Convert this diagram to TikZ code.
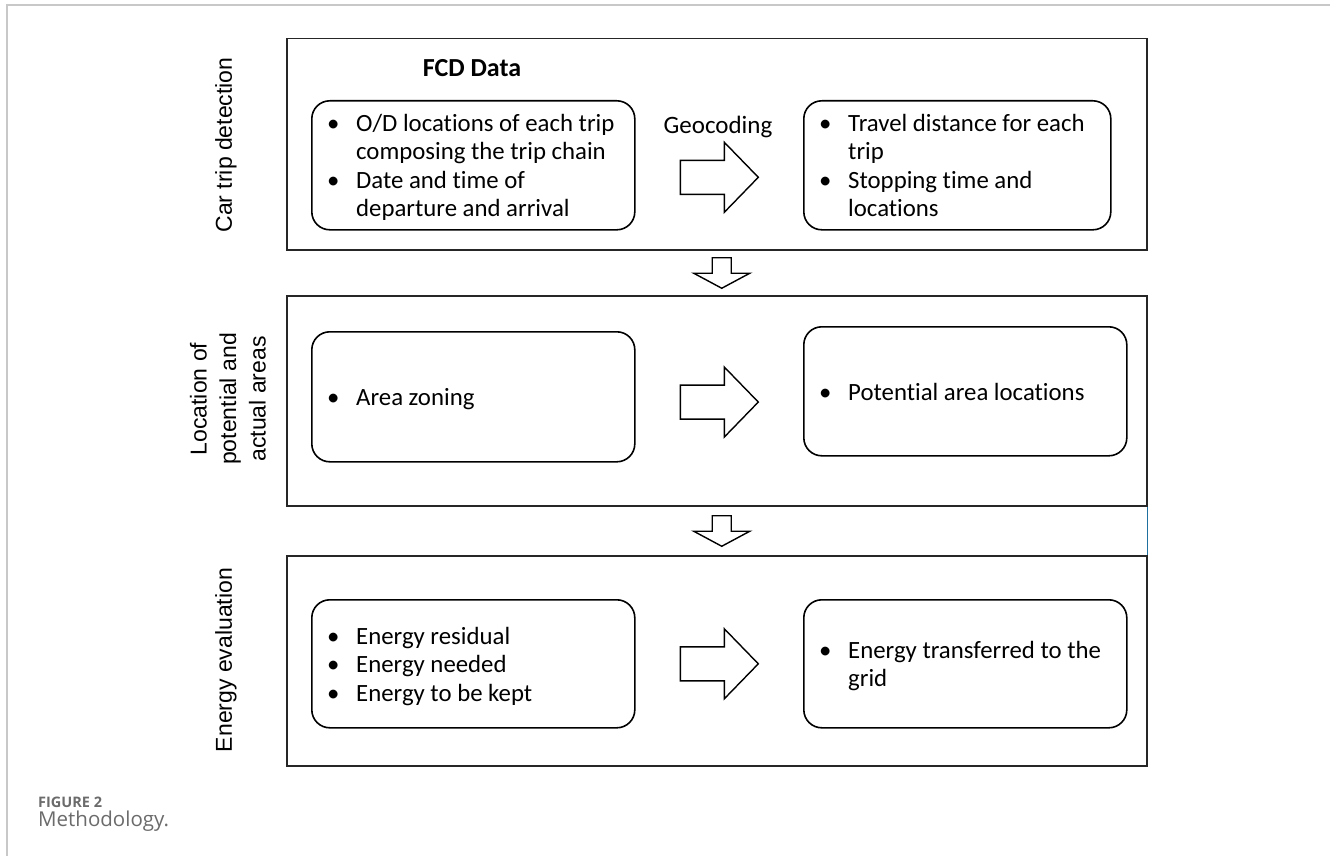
\documentclass[tikz,border=0pt]{standalone}
\usepackage{fontspec}
\setmainfont{Carlito}[Ligatures=NoCommon]
\newfontfamily\arialf{Liberation Sans}
\newfontfamily\capf{Open Sans}
\usetikzlibrary{calc}
\definecolor{capgray}{HTML}{6B6B6B}
\definecolor{framegray}{HTML}{C8C8C8}
\definecolor{tealline}{HTML}{1F6F9F}
\newcommand{\bl}{\makebox[29pt][l]{\textbullet}}
\begin{document}
\begin{tikzpicture}[x=1pt,y=-1pt,
  outerbox/.style={draw=black!85, line width=1.5pt, minimum width=860pt, anchor=north west, inner sep=0pt},
  rbox/.style={draw=black, line width=1.6pt, rounded corners=18pt, anchor=north west, inner sep=0pt},
  txt/.style={anchor=west, inner sep=0pt, align=left, font=\fontsize{24.8}{28.5}\selectfont},
  side/.style={rotate=90, font=\arialf\fontsize{23}{29.5}\selectfont, align=center},
  blk/.style={draw=black, line width=1.4pt, fill=white, line join=miter},
]
\useasboundingbox (0,0) rectangle (1330,856);
% page frame
\draw[framegray, line width=2pt] (7,856) -- (7,5) -- (1330,5);

% section boxes
\node[outerbox, minimum height=211pt] (s1) at (286,38) {};
\node[outerbox, minimum height=210pt] (s2) at (286,295) {};
\node[outerbox, minimum height=210pt] (s3) at (286,555) {};

% side labels
\node[side] (l1) at (226,145) {Car trip detection};
\node[side] (l2) at (228,399) {Location of\\potential and\\actual areas};
\node[side] (l3) at (226,660) {Energy evaluation};

% titles
\node[font=\bfseries\fontsize{26}{28}\selectfont] (fcd) at (472,68) {FCD Data};
\node[font=\fontsize{25}{28}\selectfont] (geo) at (718,127) {Geocoding};

% inner boxes
\node[rbox, minimum width=323pt, minimum height=129pt] (b1l) at (311,100) {};
\node[rbox, minimum width=307pt, minimum height=129pt] (b1r) at (803,100) {};
\node[rbox, minimum width=323pt, minimum height=130pt] (b2l) at (311,331) {};
\node[rbox, minimum width=323pt, minimum height=129pt] (b2r) at (803,326) {};
\node[rbox, minimum width=323pt, minimum height=128pt] (b3l) at (311,599) {};
\node[rbox, minimum width=323pt, minimum height=128pt] (b3r) at (803,599) {};

% box texts
\node[txt] (t1l) at ($(b1l.west)+(16,3)$)
 {\begin{tabular}{@{}l@{}l@{}}\bl & O/D locations of each trip\\ & composing the trip chain\\ \bl & Date and time of\\ & departure and arrival\end{tabular}};
\node[txt] (t1r) at ($(b1r.west)+(16,3)$)
 {\begin{tabular}{@{}l@{}l@{}}\bl & Travel distance for each\\ & trip\\ \bl & Stopping time and\\ & locations\end{tabular}};
\node[txt] (t2l) at ($(b2l.west)+(16,3)$)
 {\begin{tabular}{@{}l@{}l@{}}\bl & Area zoning\end{tabular}};
\node[txt] (t2r) at ($(b2r.west)+(16,3)$)
 {\begin{tabular}{@{}l@{}l@{}}\bl & Potential area locations\end{tabular}};
\node[txt] (t3l) at ($(b3l.west)+(16,3)$)
 {\begin{tabular}{@{}l@{}l@{}}\bl & Energy residual\\ \bl & Energy needed\\ \bl & Energy to be kept\end{tabular}};
\node[txt] (t3r) at ($(b3r.west)+(16,3)$)
 {\begin{tabular}{@{}l@{}l@{}}\bl & Energy transferred to the\\ & grid\end{tabular}};

% block arrows to the right
\draw[blk, shift={($(b1l.east)!0.5!(b1r.west)+(0,12)$)}]
  (-39,-17) -- (5,-17) -- (5,-35) -- (39,0) -- (5,35) -- (5,17) -- (-39,17) -- cycle;
\draw[blk, shift={($(b2l.east)!0.5!(b2r.west)+(0,8)$)}]
  (-39,-17) -- (5,-17) -- (5,-35) -- (39,0) -- (5,35) -- (5,17) -- (-39,17) -- cycle;
\draw[blk, shift={($(b3l.east)!0.5!(b3r.west)+(0,0)$)}]
  (-39,-17) -- (5,-17) -- (5,-35) -- (39,0) -- (5,35) -- (5,17) -- (-39,17) -- cycle;

% block arrows downward
\draw[blk, shift={($(s1.south)!0.5!(s2.north)+(5,0)$)}]
  (-9.5,-15) -- (9.5,-15) -- (9.5,0.5) -- (28,0.5) -- (0,15.5) -- (-28,0.5) -- (-9.5,0.5) -- cycle;
\draw[blk, shift={($(s2.south)!0.5!(s3.north)+(5,0)$)}]
  (-9.5,-15) -- (9.5,-15) -- (9.5,0.5) -- (28,0.5) -- (0,15.5) -- (-28,0.5) -- (-9.5,0.5) -- cycle;

% thin teal line
\draw[tealline, line width=1pt] (s2.south east) -- (s3.north east);

% caption
\node[anchor=west, font=\capf\bfseries\fontsize{14.5}{16}\selectfont, text=capgray, inner sep=0pt] (cap1) at (38,802) {FIGURE 2};
\node[anchor=west, font=\capf\fontsize{20.5}{23}\selectfont, text=capgray, inner sep=0pt] (cap2) at (38,821) {Methodology.};
\end{tikzpicture}
\end{document}
